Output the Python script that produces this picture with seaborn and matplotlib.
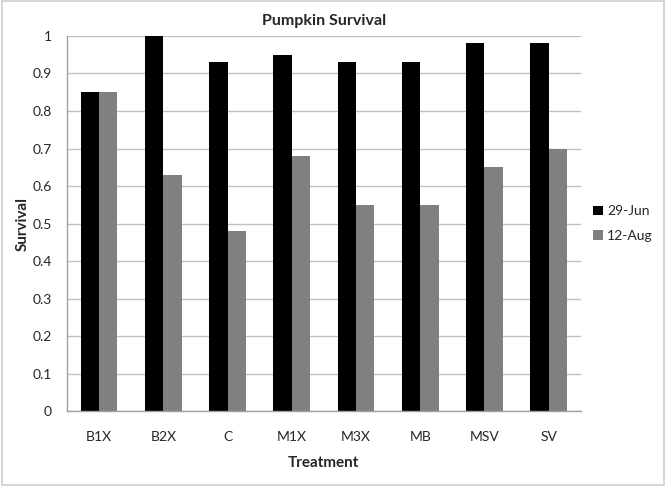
import numpy as np
import pandas as pd
import matplotlib
matplotlib.use("Agg")
import matplotlib.pyplot as plt
import seaborn as sns
from matplotlib.patches import Rectangle

# ---- data ----
treatments = ['B1X', 'B2X', 'C', 'M1X', 'M3X', 'MB', 'MSV', 'SV']
jun29 = [0.85, 1.00, 0.93, 0.95, 0.93, 0.93, 0.98, 0.98]
aug12 = [0.85, 0.63, 0.48, 0.68, 0.55, 0.55, 0.65, 0.70]
series_names = ['29-Jun', '12-Aug']
series_colors = ['#000000', '#808080']
y_ticks = [0, 0.1, 0.2, 0.3, 0.4, 0.5, 0.6, 0.7, 0.8, 0.9, 1]

df = pd.DataFrame({
    'Treatment': treatments * 2,
    'Survival': jun29 + aug12,
    'Date': [series_names[0]] * len(treatments) + [series_names[1]] * len(treatments),
})

sns.set_style('white')
plt.rcParams['font.family'] = ['Lato', 'DejaVu Sans']

fig = plt.figure(figsize=(6.66, 4.86), dpi=100)
ax = fig.add_axes([0.1006, 0.154, 0.7715, 0.772])

sns.barplot(data=df, x='Treatment', y='Survival', hue='Date',
            palette=series_colors, width=0.57, gap=0, saturation=1,
            linewidth=0, ax=ax)

ax.set_ylim(0, 1)
ax.set_xlim(-0.5, len(treatments) - 0.5)
ax.set_yticks(y_ticks)
ax.set_yticklabels([f'{t:g}' for t in y_ticks], fontsize=10)
ax.set_xticks(range(len(treatments)))
ax.set_xticklabels(treatments, fontsize=10)
ax.set_xticks(np.arange(-0.5, len(treatments)), minor=True)
ax.tick_params(axis='x', which='major', length=0, pad=14)
ax.tick_params(axis='x', which='minor', length=5, color='#a0a0a0', direction='out', width=1)
ax.tick_params(axis='y', length=5, color='#a0a0a0', direction='out', width=1, pad=6)

ax.yaxis.grid(True, color='#c0c0c0', linewidth=1)
ax.set_axisbelow(True)
for s in ['top', 'right']:
    ax.spines[s].set_visible(False)
for s in ['left', 'bottom']:
    ax.spines[s].set_color('#a0a0a0')
    ax.spines[s].set_linewidth(1)

ax.set_title('Pumpkin Survival', fontsize=11.5, fontweight='bold', pad=8)
ax.set_xlabel('Treatment', fontsize=11, fontweight='bold', labelpad=10)
ax.set_ylabel('Survival', fontsize=11, fontweight='bold', labelpad=2)

leg = ax.legend(loc='center left', bbox_to_anchor=(1.0, 0.5), frameon=False,
                fontsize=10, handlelength=0.7, handleheight=0.7,
                handletextpad=0.3, labelspacing=0.9)

fig.patches.append(Rectangle((0.003, 0.003), 0.994, 0.994, transform=fig.transFigure,
                             fill=False, edgecolor='#d0d0d0', linewidth=1.2))

fig.savefig('out.png', dpi=100)
